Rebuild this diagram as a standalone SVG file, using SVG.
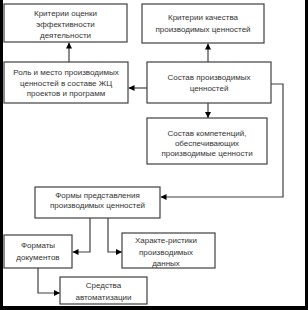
<svg xmlns="http://www.w3.org/2000/svg" width="308" height="310" viewBox="0 0 308 310">
<style>
.box{fill:#fff;stroke:#404040;stroke-width:1.2}
.t{font-family:"Liberation Sans",Arial,sans-serif;font-size:8px;fill:#333;text-anchor:middle}
.c{fill:none;stroke:#404040;stroke-width:1.2}
</style>
<defs>
<marker id="ah" viewBox="0 0 10 10" refX="10" refY="5" markerWidth="6" markerHeight="6" markerUnits="userSpaceOnUse" orient="auto">
<path d="M0,0 L10,5 L0,10 Z" fill="#000"/>
</marker>
</defs>
<rect x="0" y="0" width="308" height="310" fill="#fff"/>
<g id="frame" fill="#000">
<rect x="0" y="0" width="3" height="310"/>
<rect x="305" y="0" width="3" height="310"/>
<rect x="0" y="306" width="308" height="4"/>
</g>
<g id="connectors">
<path class="c" d="M69,62 V42.5" marker-end="url(#ah)"/>
<path class="c" d="M208,62 V43.5" marker-end="url(#ah)"/>
<path class="c" d="M147,88 H128.5" marker-end="url(#ah)"/>
<path class="c" d="M208,103 V118" marker-end="url(#ah)"/>
<path class="c" d="M271,84 H283 V197 H160.5" marker-end="url(#ah)"/>
<path class="c" d="M90,218 V252 H72.5" marker-end="url(#ah)"/>
<path class="c" d="M108,218 V252 H122" marker-end="url(#ah)"/>
<path class="c" d="M38,268 V293 H60" marker-end="url(#ah)"/>
</g>
<g id="n1">
<rect class="box" x="4" y="4" width="123" height="38"/>
<text class="t" x="65.5" y="16">Критерии оценки</text>
<text class="t" x="65.5" y="27">эффективности</text>
<text class="t" x="65.5" y="37.5">деятельности</text>
</g>
<g id="n2">
<rect class="box" x="142" y="4" width="122" height="39"/>
<text class="t" x="203" y="20">Критерии качества</text>
<text class="t" x="203" y="32">производимых ценностей</text>
</g>
<g id="n3">
<rect class="box" x="4" y="62" width="124" height="41"/>
<text class="t" x="66" y="75">Роль и место производимых</text>
<text class="t" x="66" y="85.5">ценностей в составе ЖЦ</text>
<text class="t" x="66" y="96">проектов и программ</text>
</g>
<g id="n4">
<rect class="box" x="147" y="62" width="124" height="41"/>
<text class="t" x="209" y="80">Состав производимых</text>
<text class="t" x="209" y="91">ценностей</text>
</g>
<g id="n5">
<rect class="box" x="147" y="118" width="120" height="46"/>
<text class="t" x="207" y="136">Состав компетенций,</text>
<text class="t" x="207" y="146">обеспечивающих</text>
<text class="t" x="207" y="155.5">производимые ценности</text>
</g>
<g id="n6">
<rect class="box" x="35" y="187" width="125" height="31"/>
<text class="t" x="97.5" y="198">Формы представления</text>
<text class="t" x="97.5" y="208">производимых ценностей</text>
</g>
<g id="n7">
<rect class="box" x="4" y="235" width="68" height="33"/>
<text class="t" x="38" y="248">Форматы</text>
<text class="t" x="38" y="259.5">документов</text>
</g>
<g id="n8">
<rect class="box" x="122" y="233" width="93" height="35"/>
<text class="t" x="166" y="243">Характе-ристики</text>
<text class="t" x="166" y="254.5">производимых</text>
<text class="t" x="166" y="265.5">данных</text>
</g>
<g id="n9">
<rect class="box" x="60" y="277" width="87" height="27"/>
<text class="t" x="103.5" y="288">Средства</text>
<text class="t" x="103.5" y="300">автоматизации</text>
</g>
</svg>
